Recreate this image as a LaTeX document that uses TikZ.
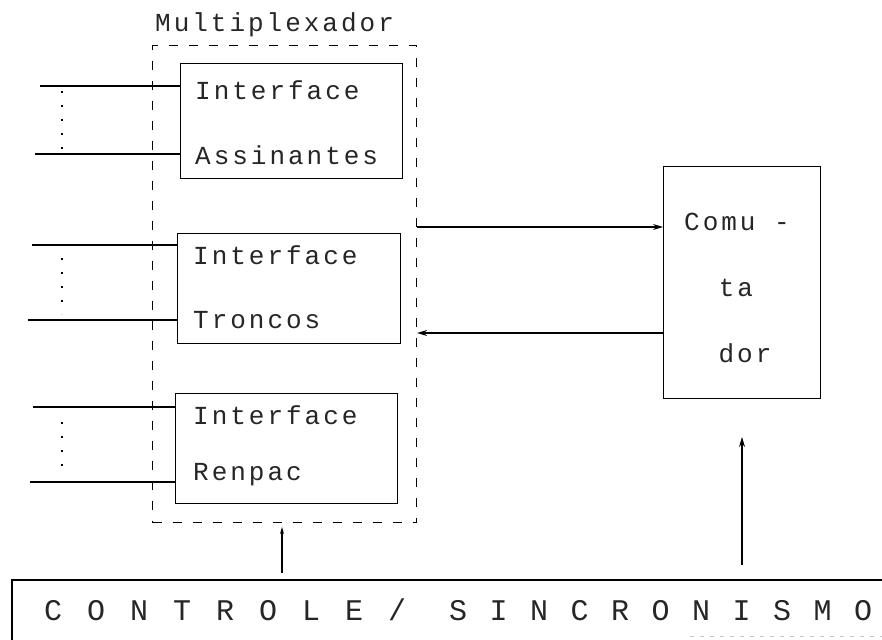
\documentclass[tikz,border=0pt]{standalone}
\usepackage{fontspec}
\newfontfamily\tw[LetterSpace=11.5]{Liberation Mono}
\newfontfamily\twa[LetterSpace=23.3]{Liberation Mono}
\newfontfamily\twb[LetterSpace=15]{Liberation Mono}
\usetikzlibrary{arrows.meta}
\begin{document}
\begin{tikzpicture}[x=1pt,y=-1pt]
\tikzset{
  box/.style={draw, line width=1.1pt, rectangle, inner sep=0pt, anchor=north west},
  lbl/.style={font=\tw\fontsize{26}{26}\selectfont, anchor=west, inner sep=0pt, text=black!85},
  lblc/.style={font=\fontsize{30}{30}\selectfont, anchor=west, inner sep=0pt, text=black!85},
  wire/.style={line width=1.1pt},
  arr/.style={wire, -{Stealth[length=10pt,width=6pt]}},
  sarr/.style={wire, -{Stealth[length=7pt,width=4pt]}},
  dotv/.style={line width=1.6pt, dash pattern=on 2pt off 12pt},
  muxbox/.style={draw, line width=1.1pt, dash pattern=on 9pt off 11pt, rectangle, inner sep=0pt, anchor=north west}
}
\useasboundingbox (0,0) rectangle (882,639);
\clip (0,0) rectangle (882,639);
\fill[white] (0,0) rectangle (882,639);

% multiplexer
\node[muxbox, minimum width=264pt, minimum height=477pt] (mux) at (152,45) {};
\node[lbl] (muxl) at (155,25) {Multiplexador};

\node[box, minimum width=222pt, minimum height=115pt] (asn) at (180,63) {};
\node[box, minimum width=223pt, minimum height=110pt] (trc) at (177,233) {};
\node[box, minimum width=222pt, minimum height=110pt] (ren) at (175,393) {};

\node[lbl] (asn1) at (195,90) {Interface};
\node[lbl] (asn2) at (195,155) {Assinantes};
\node[lbl] (trc1) at (193,255) {Interface};
\node[lbl] (trc2) at (193,320) {Troncos};
\node[lbl] (ren1) at (193,415) {Interface};
\node[lbl] (ren2) at (193,475) {Renpac};

% comutador
\node[box, minimum width=157pt, minimum height=232pt] (com) at (663,166) {};
\node[lbl, anchor=center] (com1) at (737,222) {Comu -};
\node[lbl, anchor=center] (com2) at (736,288) {ta};
\node[lbl, anchor=center] (com3) at (745,353) {dor};

% controle box (open, runs off the page)
\node[rectangle, inner sep=0pt, anchor=north west, minimum width=900pt, minimum height=100pt] (ctl) at (12,580) {};
\draw[wire] (ctl.south west) -- (ctl.north west) -- (ctl.north east);
\node[lblc] (ctlt) at (44,610) {{\twa C O N T R O L E /}\hspace{43pt}{\twb S I N C R O N I S M O}};
\draw[gray!45, line width=0.8pt, dash pattern=on 4pt off 6pt] (690,636) -- (882,636);

% input lines
\coordinate (a1) at (40,86);  \coordinate (a2) at (35,154);
\coordinate (t1) at (32,245); \coordinate (t2) at (28,320);
\coordinate (r1) at (33,407); \coordinate (r2) at (30,482);
\draw[wire] (a1) -- (a1 -| asn.west);
\draw[wire] (a2) -- (a2 -| asn.west);
\draw[wire] (t1) -- (t1 -| trc.west);
\draw[wire] (t2) -- (t2 -| trc.west);
\draw[wire] (r1) -- (r1 -| ren.west);
\draw[wire] (r2) -- (r2 -| ren.west);
\draw[dotv] (62,91) -- (62,152);
\draw[dotv] (62,258) -- (62,314);
\draw[dotv] (62,422) -- (62,475);

% mux <-> comutador
\draw[arr] (mux.east |- 0,227) -- (com.west |- 0,227);
\draw[arr] (com.west |- 0,333) -- (mux.east |- 0,333);

% control arrows
\coordinate (v1) at (742,565); \coordinate (v2) at (742,437);
\draw[arr] (v1) -- (v2);
\coordinate (w1) at (282,573); \coordinate (w2) at (282,527);
\draw[sarr] (w1) -- (w2);
\end{tikzpicture}
\end{document}
